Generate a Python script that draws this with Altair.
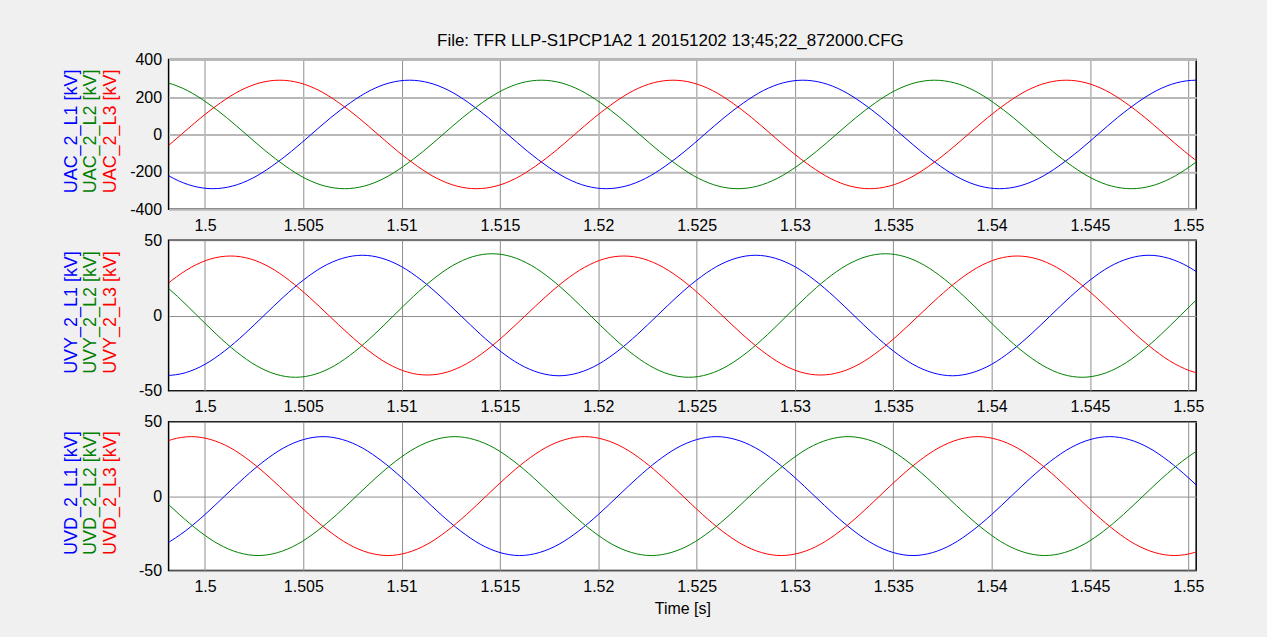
import altair as alt
import pandas as pd

FONT = "Liberation Sans"
DT = 0.001  # sample interval [s]

TITLE = "File: TFR LLP-S1PCP1A2 1 20151202 13;45;22_872000.CFG"
X_TICKS = [1.5, 1.505, 1.51, 1.515, 1.52, 1.525, 1.53, 1.535, 1.54, 1.545, 1.55]
X_DOMAIN = [1.49815, 1.5504]

# ---- panel 1: UAC ----
UAC_NAMES = ["UAC_2_L1 [kV]", "UAC_2_L2 [kV]", "UAC_2_L3 [kV]"]
UAC_START = [1.4974, 1.4971, 1.4978]
UAC_L1 = [-170, -235, -276, -290, -276, -235, -170, -90, 0, 90, 170, 235, 276,
          290, 276, 235, 170, 90, 0, -90, -170, -235, -276, -290, -276, -235, -170, -90, 0, 90, 170, 235, 276,
          290, 276, 235, 170, 90, 0, -90, -170, -235, -276, -290, -276, -235, -170, -90, 0, 90, 170, 235, 276,
          290, 276]
UAC_L2 = [290, 276, 235, 170, 90, 0, -90, -170, -235, -276, -290, -276, -235, -170, -90, 0, 90, 170, 235, 276,
          290, 276, 235, 170, 90, 0, -90, -170, -235, -276, -290, -276, -235, -170, -90, 0, 90, 170, 235, 276,
          290, 276, 235, 170, 90, 0, -90, -170, -235, -276, -290, -276, -235, -170, -90]
UAC_L3 = [-90, 0, 90, 170, 235, 276,
          290, 276, 235, 170, 90, 0, -90, -170, -235, -276, -290, -276, -235, -170, -90, 0, 90, 170, 235, 276,
          290, 276, 235, 170, 90, 0, -90, -170, -235, -276, -290, -276, -235, -170, -90, 0, 90, 170, 235, 276,
          290, 276, 235, 170, 90, 0, -90, -170, -235]

# ---- panel 2: UVY ----
UVY_NAMES = ["UVY_2_L1 [kV]", "UVY_2_L2 [kV]", "UVY_2_L3 [kV]"]
UVY_START = [1.4980, 1.4976, 1.4973]
UVY_L1 = [-40, -38, -32.4, -23.5, -12.4, 0, 12.4, 23.5, 32.4, 38,
          40, 38, 32.4, 23.5, 12.4, 0, -12.4, -23.5, -32.4, -38, -40, -38, -32.4, -23.5, -12.4, 0, 12.4, 23.5, 32.4, 38,
          40, 38, 32.4, 23.5, 12.4, 0, -12.4, -23.5, -32.4, -38, -40, -38, -32.4, -23.5, -12.4, 0, 12.4, 23.5, 32.4, 38,
          40, 38, 32.4, 23.5, 12.4]
UVY_L2 = [24.1, 12.7, 0, -12.7, -24.1, -33.2, -39, -41, -39, -33.2, -24.1, -12.7, 0, 12.7, 24.1, 33.2, 39,
          41, 39, 33.2, 24.1, 12.7, 0, -12.7, -24.1, -33.2, -39, -41, -39, -33.2, -24.1, -12.7, 0, 12.7, 24.1, 33.2, 39,
          41, 39, 33.2, 24.1, 12.7, 0, -12.7, -24.1, -33.2, -39, -41, -39, -33.2, -24.1, -12.7, 0, 12.7, 24.1]
UVY_L3 = [12.2, 23.2, 32.0, 37.6,
          39.5, 37.6, 32.0, 23.2, 12.2, 0, -12.2, -23.2, -32.0, -37.6, -39.5, -37.6, -32.0, -23.2, -12.2, 0, 12.2, 23.2, 32.0, 37.6,
          39.5, 37.6, 32.0, 23.2, 12.2, 0, -12.2, -23.2, -32.0, -37.6, -39.5, -37.6, -32.0, -23.2, -12.2, 0, 12.2, 23.2, 32.0, 37.6,
          39.5, 37.6, 32.0, 23.2, 12.2, 0, -12.2, -23.2, -32.0, -37.6, -39.5]

# ---- panel 3: UVD ----
UVD_NAMES = ["UVD_2_L1 [kV]", "UVD_2_L2 [kV]", "UVD_2_L3 [kV]"]
UVD_START = [1.4980, 1.4977, 1.4973]
UVD_L1 = [-32.4, -23.5, -12.4, 0, 12.4, 23.5, 32.4, 38,
          40, 38, 32.4, 23.5, 12.4, 0, -12.4, -23.5, -32.4, -38, -40, -38, -32.4, -23.5, -12.4, 0, 12.4, 23.5, 32.4, 38,
          40, 38, 32.4, 23.5, 12.4, 0, -12.4, -23.5, -32.4, -38, -40, -38, -32.4, -23.5, -12.4, 0, 12.4, 23.5, 32.4, 38,
          40, 38, 32.4, 23.5, 12.4, 0, -12.4]
UVD_L2 = [0, -12.4, -23.5, -32.4, -38, -40, -38, -32.4, -23.5, -12.4, 0, 12.4, 23.5, 32.4, 38,
          40, 38, 32.4, 23.5, 12.4, 0, -12.4, -23.5, -32.4, -38, -40, -38, -32.4, -23.5, -12.4, 0, 12.4, 23.5, 32.4, 38,
          40, 38, 32.4, 23.5, 12.4, 0, -12.4, -23.5, -32.4, -38, -40, -38, -32.4, -23.5, -12.4, 0, 12.4, 23.5, 32.4, 38]
UVD_L3 = [32.4, 38,
          40, 38, 32.4, 23.5, 12.4, 0, -12.4, -23.5, -32.4, -38, -40, -38, -32.4, -23.5, -12.4, 0, 12.4, 23.5, 32.4, 38,
          40, 38, 32.4, 23.5, 12.4, 0, -12.4, -23.5, -32.4, -38, -40, -38, -32.4, -23.5, -12.4, 0, 12.4, 23.5, 32.4, 38,
          40, 38, 32.4, 23.5, 12.4, 0, -12.4, -23.5, -32.4, -38, -40, -38, -32.4]

COLORS = ["#0000ff", "#008000", "#ff0000"]
LABEL_X = [-97, -78, -58]
PLOT_W = 1030


def build_df(names, starts, series):
    rows = []
    for name, start, vals in zip(names, starts, series):
        for i, v in enumerate(vals):
            rows.append({"t": round(start + i * DT, 6), "v": v, "series": name})
    return pd.DataFrame(rows)


def panel(names, starts, series, ydomain, yticks, height, hgrid_color, hgrid_width,
          title=None, xtitle=None):
    df = build_df(names, starts, series)
    x_kwargs = {}
    if xtitle:
        x_kwargs = dict(titleFontSize=16, titleFont=FONT,
                        titleFontWeight="normal", titlePadding=6, titleColor="black")
    x = alt.X("t:Q",
              scale=alt.Scale(domain=X_DOMAIN, nice=False, zero=False),
              axis=alt.Axis(values=X_TICKS, labelExpr="'' + datum.value", grid=True,
                            gridColor="#8f8f8f", gridWidth=1, ticks=False, domain=False,
                            labelPadding=8, labelFlush=False, **x_kwargs),
              title=xtitle if xtitle else None)
    y = alt.Y("v:Q",
              scale=alt.Scale(domain=ydomain, nice=False, zero=False),
              axis=alt.Axis(values=yticks, labelExpr="'' + datum.value", grid=True,
                            gridColor=hgrid_color, gridWidth=hgrid_width, ticks=False,
                            domain=False, labelPadding=7, labelFlush=False),
              title=None)
    lines = alt.Chart(df).mark_line(strokeWidth=1, clip=True, interpolate="monotone").encode(
        x=x, y=y,
        color=alt.Color("series:N", scale=alt.Scale(domain=names, range=COLORS), legend=None),
        detail="series:N",
    )
    layers = [lines]
    for name, col, lx in zip(names, COLORS, LABEL_X):
        txt = alt.Chart(pd.DataFrame({"label": [name]})).mark_text(
            angle=270, fontSize=18, font=FONT, color=col, align="center", baseline="middle"
        ).encode(text="label:N", x=alt.value(lx), y=alt.value(height / 2 - 3))
        layers.append(txt)
    props = dict(width=PLOT_W, height=height)
    if title:
        props["title"] = alt.TitleParams(title, fontSize=17, font=FONT, fontWeight="normal",
                                         color="black", anchor="middle", offset=2, dx=-12)
    return alt.layer(*layers).properties(**props)


p1 = panel(UAC_NAMES, UAC_START, [UAC_L1, UAC_L2, UAC_L3], [-400, 400],
           [-400, -200, 0, 200, 400], 150, "#b8b8b8", 2, title=TITLE)
p2 = panel(UVY_NAMES, UVY_START, [UVY_L1, UVY_L2, UVY_L3], [-50, 50],
           [-50, 0, 50], 151, "#8f8f8f", 1)
p3 = panel(UVD_NAMES, UVD_START, [UVD_L1, UVD_L2, UVD_L3], [-50, 50],
           [-50, 0, 50], 149, "#8f8f8f", 1, xtitle="Time [s]")

chart = alt.vconcat(p1, p2, p3, spacing=31, bounds="flush").configure(
    background="#f0f0f0",
    padding={"left": 62, "top": 30, "right": 62, "bottom": 24},
    font=FONT,
).configure_view(
    fill="white", stroke="black", strokeWidth=1.5
).configure_axis(
    labelFont=FONT, labelFontSize=16, labelColor="black"
)

chart.save("out.html", embed_options={"renderer": "svg", "actions": False})
